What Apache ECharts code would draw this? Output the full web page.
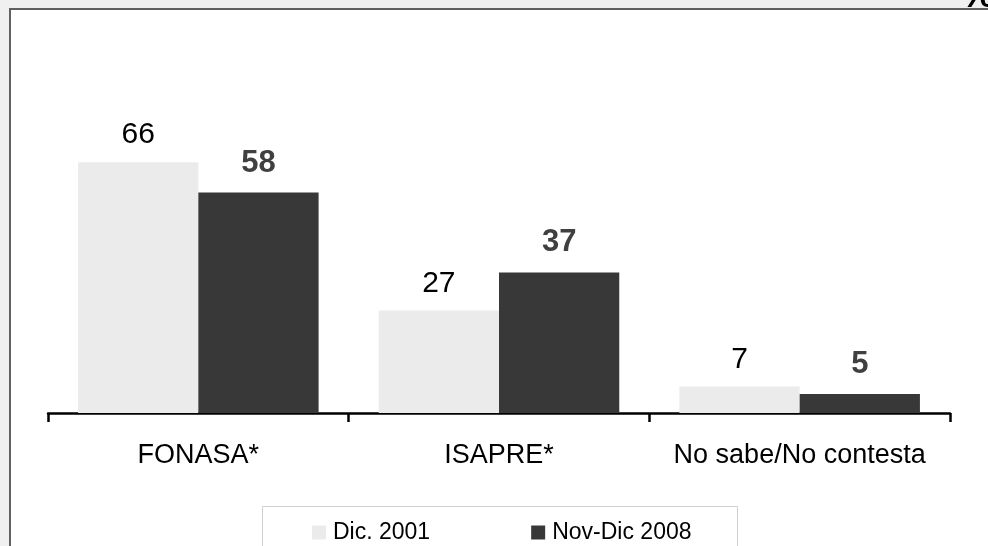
<!DOCTYPE html>
<html><head><meta charset="utf-8">
<script src="https://cdn.jsdelivr.net/npm/echarts@6/dist/echarts.min.js"></script>
<style>html,body{margin:0;padding:0;background:#f0f0f0;}#c{width:988px;height:546px;}</style>
</head><body><div id="c"></div>
<script>
var categories = ['FONASA*', 'ISAPRE*', 'No sabe/No contesta'];
var seriesNames = ['Dic. 2001', 'Nov-Dic 2008'];
var dic2001 = [66, 27, 7];
var novDic2008 = [58, 37, 5];

var chart = echarts.init(document.getElementById('c'));
var FONT = 'Liberation Sans, Arial, sans-serif';
chart.setOption({
  backgroundColor: '#f0f0f0',
  animation: false,
  textStyle: { fontFamily: FONT },
  graphic: [
    { type: 'rect', z: -10, shape: { x: 10, y: 9, width: 1000, height: 600 },
      style: { fill: '#ffffff', stroke: '#606060', lineWidth: 2 } },
    { type: 'rect', z: -5, shape: { x: 262.5, y: 506.5, width: 475, height: 60 },
      style: { fill: '#ffffff', stroke: '#d0d0d0', lineWidth: 1 } },
    { type: 'text', z: -8, style: { x: 961, y: 16, text: '%', fill: '#000', textVerticalAlign: 'bottom',
      font: 'bold 38px Liberation Sans, Arial, sans-serif' } },
    { type: 'rect', z: -7, shape: { x: 900, y: 8, width: 100, height: 20 },
      style: { fill: '#ffffff', stroke: null } },
    { type: 'line', z: -6, shape: { x1: 900, y1: 9, x2: 988, y2: 9 },
      style: { stroke: '#606060', lineWidth: 2 } }
  ],
  legend: {
    left: 307, top: 516, itemWidth: 14, itemHeight: 14, itemGap: 101,
    icon: 'rect',
    textStyle: { fontSize: 23, color: '#000', fontFamily: FONT, padding: [0, 0, 0, 2] },
    data: seriesNames
  },
  grid: { left: 48, right: 38, top: 109, bottom: 133, containLabel: false },
  xAxis: {
    type: 'category', data: categories,
    axisLine: { lineStyle: { color: '#000', width: 2.5 } },
    axisTick: { show: true, interval: 0, length: 9, lineStyle: { color: '#000', width: 2.5 } },
    axisLabel: { interval: 0, fontSize: 27, color: '#000', margin: 29, fontFamily: FONT }
  },
  yAxis: { type: 'value', min: 0, max: 80, show: false, splitLine: { show: false } },
  series: [
    { name: seriesNames[0], type: 'bar', data: dic2001, barGap: '0%', barCategoryGap: '20%',
      itemStyle: { color: '#ebebeb' },
      label: { show: true, position: 'top', distance: 12, fontSize: 30, color: '#000', fontFamily: FONT } },
    { name: seriesNames[1], type: 'bar', data: novDic2008, barGap: '0%', barCategoryGap: '20%',
      itemStyle: { color: '#383838' },
      label: { show: true, position: 'top', distance: 14, fontSize: 31, fontWeight: 'bold', color: '#404040', fontFamily: FONT } }
  ]
});
</script></body></html>
